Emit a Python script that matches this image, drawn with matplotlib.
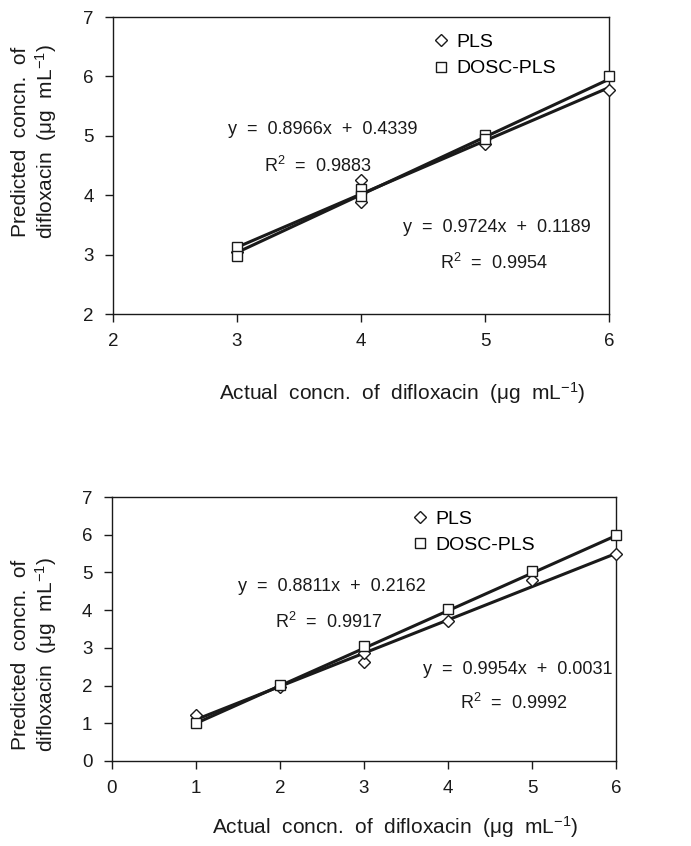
import matplotlib
matplotlib.use("Agg")
import matplotlib.pyplot as plt
import numpy as np

plt.rcParams["font.family"] = ["Liberation Sans", "DejaVu Sans"]
plt.rcParams["mathtext.fontset"] = "custom"
plt.rcParams["mathtext.rm"] = "Liberation Sans"
plt.rcParams["mathtext.it"] = "Liberation Sans:italic"

INK = "#1a1a1a"

# --- top panel data ---
top_pls_x = [3, 4, 4, 5, 6]
top_pls_y = [3.05, 4.26, 3.88, 4.86, 5.77]
top_dosc_x = [3, 3, 4, 4, 5, 5, 6]
top_dosc_y = [3.13, 2.97, 4.10, 3.98, 5.01, 4.94, 6.01]
top_fit_pls = (0.8966, 0.4339, 0.9883)
top_fit_dosc = (0.9724, 0.1189, 0.9954)

# --- bottom panel data ---
bot_pls_x = [1, 2, 3, 3, 4, 5, 6]
bot_pls_y = [1.22, 1.97, 2.62, 2.86, 3.70, 4.79, 5.49]
bot_dosc_x = [1, 2, 3, 4, 5, 6]
bot_dosc_y = [1.00, 2.02, 3.06, 4.03, 5.05, 5.98]
bot_fit_pls = (0.8811, 0.2162, 0.9917)
bot_fit_dosc = (0.9954, 0.0031, 0.9992)

xlabel = "Actual  concn.  of  difloxacin  (\u03bcg  mL$^{-1}$)"
ylabel = "Predicted  concn.  of\ndifloxacin  (\u03bcg  mL$^{-1}$)"


def eq_text(ax, fit, x, y, rx, ry):
    m, b, r2 = fit
    ax.text(x, y, f"y  =  {m:.4f}x  +  {b:.4f}", fontsize=13, color=INK,
            ha="left", va="center")
    ax.text(rx, ry, f"R$^2$  =  {r2:.4f}", fontsize=13, color=INK,
            ha="left", va="center")


def panel(ax, pls_x, pls_y, dosc_x, dosc_y, fit_pls, fit_dosc, xlim, ylim, leg_xy):
    for fit, xs in ((fit_pls, pls_x), (fit_dosc, dosc_x)):
        xx = np.array([min(xs), max(xs)])
        ax.plot(xx, fit[0] * xx + fit[1], color=INK, lw=2.2, zorder=2,
                clip_on=False)
    ax.plot(pls_x, pls_y, "D", ms=6, mfc="white", mec=INK, mew=1.0,
            ls="none", label="PLS", zorder=3, clip_on=False)
    ax.plot(dosc_x, dosc_y, "s", ms=7.5, mfc="white", mec=INK, mew=1.0,
            ls="none", label="DOSC-PLS", zorder=3, clip_on=False)
    ax.set_xlim(*xlim)
    ax.set_ylim(*ylim)
    ax.set_xticks(range(xlim[0], xlim[1] + 1))
    ax.set_yticks(range(ylim[0], ylim[1] + 1))
    ax.tick_params(direction="out", length=6, width=1.0, colors=INK,
                   labelsize=13.5, pad=8)
    for s in ax.spines.values():
        s.set_color(INK)
        s.set_linewidth(1.0)
    ax.legend(loc="upper left", bbox_to_anchor=leg_xy, frameon=False,
              fontsize=14, handlelength=0.8, handletextpad=0.4,
              labelspacing=0.45, borderpad=0, borderaxespad=0)


fig = plt.figure(figsize=(6.91, 8.46), dpi=100)

ax1 = fig.add_axes([0.1635, 0.6288, 0.7178, 0.351])
panel(ax1, top_pls_x, top_pls_y, top_dosc_x, top_dosc_y, top_fit_pls, top_fit_dosc,
      (2, 6), (2, 7), (0.645, 0.945))
eq_text(ax1, top_fit_pls, 2.93, 5.10, 3.22, 4.50)
eq_text(ax1, top_fit_dosc, 4.34, 3.45, 4.64, 2.86)
fig.text(402 / 691, 1 - 393 / 846, xlabel, fontsize=15, color=INK,
         ha="center", va="center")
fig.text(35 / 691, 1 - 142 / 846, ylabel, rotation=90, fontsize=15, color=INK,
         ha="center", va="center", multialignment="center", linespacing=1.2)

ax2 = fig.add_axes([0.162, 0.1005, 0.7294, 0.312])
panel(ax2, bot_pls_x, bot_pls_y, bot_dosc_x, bot_dosc_y, bot_fit_pls, bot_fit_dosc,
      (0, 6), (0, 7), (0.595, 0.95))
eq_text(ax2, bot_fit_pls, 1.50, 4.62, 1.94, 3.70)
eq_text(ax2, bot_fit_dosc, 3.70, 2.43, 4.14, 1.53)
fig.text(395 / 691, 1 - 827 / 846, xlabel, fontsize=15, color=INK,
         ha="center", va="center")
fig.text(35 / 691, 1 - 655 / 846, ylabel, rotation=90, fontsize=15, color=INK,
         ha="center", va="center", multialignment="center", linespacing=1.2)

fig.savefig("out.png", dpi=100, facecolor="white")
